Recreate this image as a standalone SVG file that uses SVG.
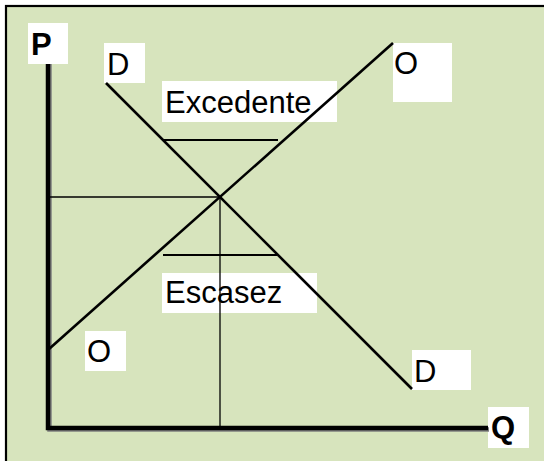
<svg xmlns="http://www.w3.org/2000/svg" width="544" height="461" viewBox="0 0 544 461">
<style>
.lbl{fill:#ffffff;stroke:none}
.t{font-family:"Liberation Sans",Arial,sans-serif;font-size:31px;fill:#000}
.b{font-weight:bold}
.thin{stroke:#000;stroke-width:1.3;fill:none}
.mid{stroke:#000;stroke-width:2;fill:none}
.crv{stroke:#000;stroke-width:2.6;fill:none}
.axis{stroke:#000;stroke-width:4.5;fill:none}
.shadow{stroke:#7f7f7f;stroke-width:4.5;fill:none}
</style>
<rect x="0" y="0" width="544" height="461" fill="#ffffff"/>
<rect x="6" y="6" width="550" height="470" fill="#d7e4bd" stroke="#000" stroke-width="2.2"/>
<g id="labels-boxes">
<rect class="lbl" x="28" y="23" width="40" height="41"/>
<rect class="lbl" x="104" y="43" width="41" height="40"/>
<rect class="lbl" x="393" y="43" width="59" height="59"/>
<rect class="lbl" x="162" y="81" width="175" height="41"/>
<rect class="lbl" x="162" y="273" width="155" height="40"/>
<rect class="lbl" x="85" y="331" width="41" height="40"/>
<rect class="lbl" x="412" y="350" width="59" height="40"/>
<rect class="lbl" x="488" y="407" width="41" height="41"/>
</g>
<g id="connectors">
<polyline class="shadow" points="49.5,64 49.5,429.5 489,429.5"/>
<polyline class="axis" points="48,64 48,428 488,428"/>
<line class="thin" x1="48" y1="197" x2="220" y2="197"/>
<line class="thin" x1="220" y1="197" x2="220" y2="428"/>
<line class="mid" x1="163" y1="140" x2="278" y2="140"/>
<line class="mid" x1="163" y1="255" x2="277" y2="255"/>
<line class="crv" x1="106" y1="83" x2="412" y2="389"/>
<line class="crv" x1="49" y1="349" x2="393" y2="43"/>
</g>
<g id="node-P"><text class="t b" x="31" y="55">P</text></g>
<g id="node-D-top"><text class="t" x="107" y="75">D</text></g>
<g id="node-O-top"><text class="t" x="394" y="74">O</text></g>
<g id="node-Excedente"><text class="t" x="165" y="113">Excedente</text></g>
<g id="node-Escasez"><text class="t" x="165" y="303">Escasez</text></g>
<g id="node-O-bottom"><text class="t" x="87" y="362">O</text></g>
<g id="node-D-bottom"><text class="t" x="414" y="382">D</text></g>
<g id="node-Q"><text class="t b" x="491" y="438">Q</text></g>
</svg>
